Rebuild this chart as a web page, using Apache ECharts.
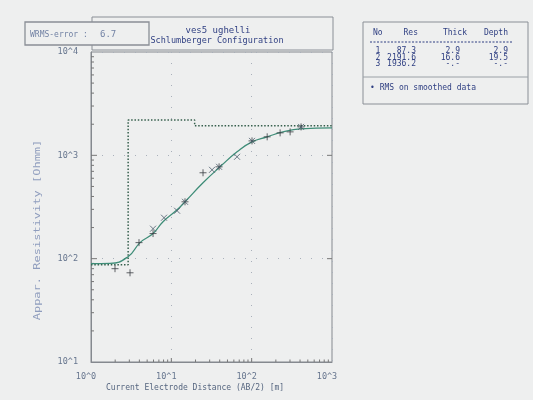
<!DOCTYPE html>
<html>
<head>
<meta charset="utf-8">
<script src="https://cdn.jsdelivr.net/npm/echarts@6/dist/echarts.min.js"></script>
<style>
  html, body { margin: 0; padding: 0; background: #eeefef; }
  #chart { width: 533px; height: 400px; }
</style>
</head>
<body>
<div id="chart"></div>
<script>
// Sounding: ves5 ughelli, Schlumberger array
// Fitted model curve (AB/2 in m, apparent resistivity in Ohmm)
const curveAB = [1, 1.72, 2.89, 4.08, 5.92, 7.88, 11.8, 14.8, 24.8, 40.4, 65.8, 101, 156, 246, 401, 1000];
const curveRho = [89.5, 90, 104.5, 143, 175, 228, 297, 355, 542, 774, 1081, 1350, 1510, 1687, 1804, 1845];

// Field readings
const fieldAB = [1.99, 3.06, 3.96, 5.92, 14.8, 24.8, 39.3, 101, 156, 226, 301, 412];
const fieldRho = [80, 73, 143, 175, 355, 678, 774, 1380, 1510, 1650, 1687, 1884];

// Smoothed readings
const smoothAB = [5.92, 8.11, 11.8, 14.8, 32.1, 39.3, 65.8, 101, 412];
const smoothRho = [195, 249, 291, 355, 724, 774, 968, 1380, 1884];

// Layered model
const layerNo = ['1', '2', '3'];
const layerRes = [87.3, 2191.6, 1936.2];
const layerThick = [2.9, 16.6, null];
const layerDepth = [2.9, 19.5, null];
const wrmsError = 6.7;

// Axis decoration
const xTickLabels = ['10^0', '10^1', '10^2', '10^3'];
const yTickLabels = ['10^1', '10^2', '10^3', '10^4'];
const minorSteps = [2, 3, 4, 5, 6, 7, 8, 9];
const xDecades = [1, 10, 100];
const yDecades = [10, 100, 1000];

const FONT = 'DejaVu Sans Mono';
const NAVY = '#2f3f82';
const GREY_BLUE = '#7282a4';

function zip(a, b) { return a.map((v, i) => [v, b[i]]); }

// Step profile of the layered model
const stepData = [];
let layerTop = 1;
layerRes.forEach((r, i) => {
  const layerBottom = layerDepth[i] == null ? 1000 : layerDepth[i];
  stepData.push([layerTop, r], [layerBottom, r]);
  layerTop = layerBottom;
});

// Minor / major tick positions
const yMinor = [], xMinor = [];
yDecades.forEach(d => minorSteps.forEach(s => yMinor.push([1, d * s, 3])));
xDecades.forEach(d => minorSteps.forEach(s => xMinor.push([d * s, 10, 2.5])));
const yMajor = [100, 1000].map(v => [1, v, 6]);
const xMajor = [10, 100].map(v => [v, 10, 4]);
const yMajorRight = [100, 1000].map(v => [1000, v, -5]);

function yTickRender(params, api) {
  const p = api.coord([api.value(0), api.value(1)]);
  const len = api.value(2);
  return { type: 'line', shape: { x1: p[0], y1: p[1], x2: p[0] + len, y2: p[1] },
           style: { stroke: '#777', lineWidth: 1 } };
}
function xTickRender(params, api) {
  const p = api.coord([api.value(0), api.value(1)]);
  const len = api.value(2);
  return { type: 'line', shape: { x1: p[0], y1: p[1], x2: p[0], y2: p[1] - len },
           style: { stroke: '#777', lineWidth: 1 } };
}

const fmt = v => (v == null ? '-.-' : v.toFixed(1));
const plusPath = 'path://M0,5L10,5M5,0L5,10';
const crossPath = 'path://M0,0L10,10M10,0L0,10';

const chart = echarts.init(document.getElementById('chart'), null, { renderer: 'canvas' });

// Table layout
const colRes = 416, colThick = 460, colDepth = 508;
const tableTexts = [
  { x: 373, y: 33, text: 'No', align: 'left' },
  { x: 418, y: 33, text: 'Res', align: 'right' },
  { x: 467, y: 33, text: 'Thick', align: 'right' },
  { x: 508, y: 33, text: 'Depth', align: 'right' }
];
layerNo.forEach((n, i) => {
  const y = 51 + i * 6.5;
  tableTexts.push({ x: 378, y, text: n, align: 'center' });
  tableTexts.push({ x: colRes, y, text: fmt(layerRes[i]), align: 'right' });
  tableTexts.push({ x: colThick, y, text: fmt(layerThick[i]), align: 'right' });
  tableTexts.push({ x: colDepth, y, text: fmt(layerDepth[i]), align: 'right' });
});

const graphics = [
  // title box
  { type: 'rect', shape: { x: 92, y: 17, width: 241, height: 33 },
    style: { fill: 'none', stroke: '#8a8f96', lineWidth: 1 } },
  // error box
  { type: 'rect', shape: { x: 25, y: 22, width: 124, height: 23 },
    style: { fill: '#eeefef', stroke: '#8a8f96', lineWidth: 1.3 } },
  { type: 'text', x: 30, y: 35, style: { text: 'WRMS-error :', font: '8px ' + FONT, fill: GREY_BLUE, verticalAlign: 'middle' } },
  { type: 'text', x: 100, y: 35, style: { text: String(wrmsError), font: '9px ' + FONT, fill: GREY_BLUE, verticalAlign: 'middle' } },
  { type: 'text', x: 218, y: 31, style: { text: 'ves5 ughelli', font: '9px ' + FONT, fill: NAVY, align: 'center', verticalAlign: 'middle' } },
  { type: 'text', x: 217, y: 41, style: { text: 'Schlumberger Configuration', font: '8.5px ' + FONT, fill: NAVY, align: 'center', verticalAlign: 'middle' } },
  // model table
  { type: 'rect', shape: { x: 363, y: 22, width: 165, height: 82 },
    style: { fill: 'none', stroke: '#8a8f96', lineWidth: 1 } },
  { type: 'line', shape: { x1: 370, y1: 42, x2: 512, y2: 42 },
    style: { stroke: NAVY, lineWidth: 1, lineDash: [2, 1.5] } },
  { type: 'line', shape: { x1: 363, y1: 77, x2: 528, y2: 77 },
    style: { stroke: '#9aa0a6', lineWidth: 1 } },
  { type: 'text', x: 370, y: 88, style: { text: '\u2022 RMS on smoothed data', font: '8px ' + FONT, fill: NAVY, verticalAlign: 'middle' } },
  // axis names
  { type: 'text', x: 38, y: 230, rotation: Math.PI / 2, scaleX: 1.5,
    style: { text: 'Appar. Resistivity [Ohmm]', font: '8px ' + FONT, fill: '#8e9cbd', align: 'center', verticalAlign: 'middle' } },
  { type: 'text', x: 195, y: 388, style: { text: 'Current Electrode Distance (AB/2) [m]', font: '8px ' + FONT, fill: '#55657f', align: 'center', verticalAlign: 'middle' } }
].concat(tableTexts.map(t => ({
  type: 'text', x: t.x, y: t.y,
  style: { text: t.text, font: '8px ' + FONT, fill: NAVY, align: t.align, verticalAlign: 'middle' }
})));

const option = {
  backgroundColor: '#eeefef',
  animation: false,
  grid: { left: 91, top: 52, width: 241, height: 310, show: true, borderColor: '#85898f', borderWidth: 1, backgroundColor: 'transparent' },
  xAxis: {
    type: 'log', logBase: 10, min: 1, max: 1000,
    axisLine: { show: true, lineStyle: { color: '#85898f' } },
    axisTick: { show: false },
    splitLine: { show: true, lineStyle: { color: '#a9b0ba', type: [1, 10], width: 1 } },
    axisLabel: {
      margin: 10, fontFamily: FONT, fontSize: 8.5, color: '#66758e', padding: [0, 10, 0, 0],
      formatter: v => xTickLabels[Math.round(Math.log10(v))]
    }
  },
  yAxis: {
    type: 'log', logBase: 10, min: 10, max: 10000,
    axisLine: { show: true, lineStyle: { color: '#85898f' } },
    axisTick: { show: false },
    splitLine: { show: true, lineStyle: { color: '#a9b0ba', type: [1, 10], width: 1 } },
    axisLabel: {
      margin: 13, fontFamily: FONT, fontSize: 8.5, color: '#66758e', padding: [4, 0, 0, 0],
      formatter: v => yTickLabels[Math.round(Math.log10(v)) - 1]
    }
  },
  graphic: graphics,
  series: [
    { type: 'custom', renderItem: yTickRender, data: yMinor.concat(yMajor, yMajorRight), clip: false, silent: true, z: 1 },
    { type: 'custom', renderItem: xTickRender, data: xMinor.concat(xMajor), clip: false, silent: true, z: 1 },
    {
      name: 'model', type: 'line', data: stepData, showSymbol: false,
      lineStyle: { color: '#355f4c', width: 1.5, type: [1.5, 1.8] }, z: 2
    },
    {
      name: 'curve', type: 'line', data: zip(curveAB, curveRho), smooth: 0.5, showSymbol: false,
      lineStyle: { color: '#3f8d78', width: 1.3 }, z: 3
    },
    {
      name: 'field', type: 'scatter', data: zip(fieldAB, fieldRho), symbol: plusPath, symbolSize: 7,
      itemStyle: { color: 'none', borderColor: '#3a3f44', borderWidth: 1 }, z: 4
    },
    {
      name: 'smoothed', type: 'scatter', data: zip(smoothAB, smoothRho), symbol: crossPath, symbolSize: 6,
      itemStyle: { color: 'none', borderColor: '#4a5a6a', borderWidth: 1 }, z: 4
    }
  ]
};
chart.setOption(option);
</script>
</body>
</html>
